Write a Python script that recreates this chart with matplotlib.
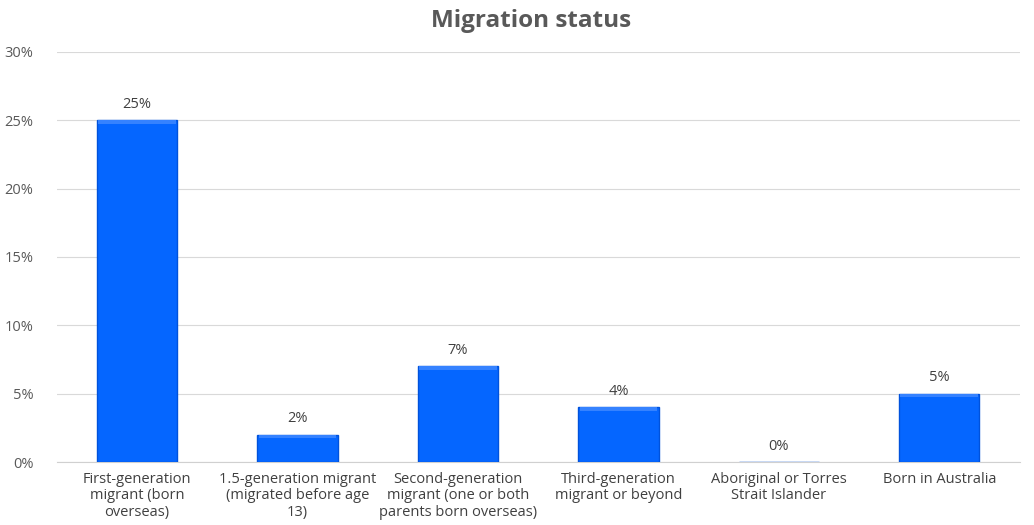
import matplotlib
matplotlib.use("Agg")
import matplotlib.pyplot as plt
import numpy as np

categories = [
    "First-generation\nmigrant (born\noverseas)",
    "1.5-generation migrant\n(migrated before age\n13)",
    "Second-generation\nmigrant (one or both\nparents born overseas)",
    "Third-generation\nmigrant or beyond",
    "Aboriginal or Torres\nStrait Islander",
    "Born in Australia",
]
shares = [25, 2, 7, 4, 0, 5]
yticks = [0, 5, 10, 15, 20, 25, 30]

plt.rcParams["font.family"] = ["Open Sans", "DejaVu Sans"]

fig = plt.figure(figsize=(10.34, 5.25), dpi=100)
ax = fig.add_axes([0.055, 0.12, 0.931, 0.781])

x = np.arange(len(categories))
width = 0.5

# body of the bars with a darker rim
ax.bar(x, shares, width=width, color="#0566ff", edgecolor="#0052dc",
       linewidth=1.0, zorder=3)
# glossy strip along the top of each bar
strip = 0.25
top = [max(v - strip, 0) for v in shares]
hl = [min(v, strip) for v in shares]
ax.bar(x, hl, bottom=top, width=width * 0.97, color="#3582ff",
       linewidth=0, zorder=4)

for xi, v in zip(x, shares):
    ax.text(xi, v + 0.6, f"{v}%", ha="center", va="bottom",
            fontsize=10.5, color="#404040")

ax.set_ylim(0, 30)
ax.set_xlim(-0.5, len(categories) - 0.5)
ax.set_yticks(yticks)
ax.set_yticklabels([f"{t}%" for t in yticks])
ax.set_xticks(x)
ax.set_xticklabels(categories, fontsize=10.5, color="#404040", linespacing=1.15)
ax.tick_params(axis="y", labelsize=10.5, labelcolor="#595959", length=0, pad=17)
ax.tick_params(axis="x", length=0, pad=7)

ax.grid(axis="y", color="#d9d9d9", linewidth=0.8, zorder=0)
for side in ["top", "right", "left"]:
    ax.spines[side].set_visible(False)
ax.spines["bottom"].set_color("#d0d0d0")

fig.suptitle("Migration status", x=0.514, y=0.982, fontsize=17.5,
             fontweight="bold", color="#595959")

fig.savefig("out.png", dpi=100)
